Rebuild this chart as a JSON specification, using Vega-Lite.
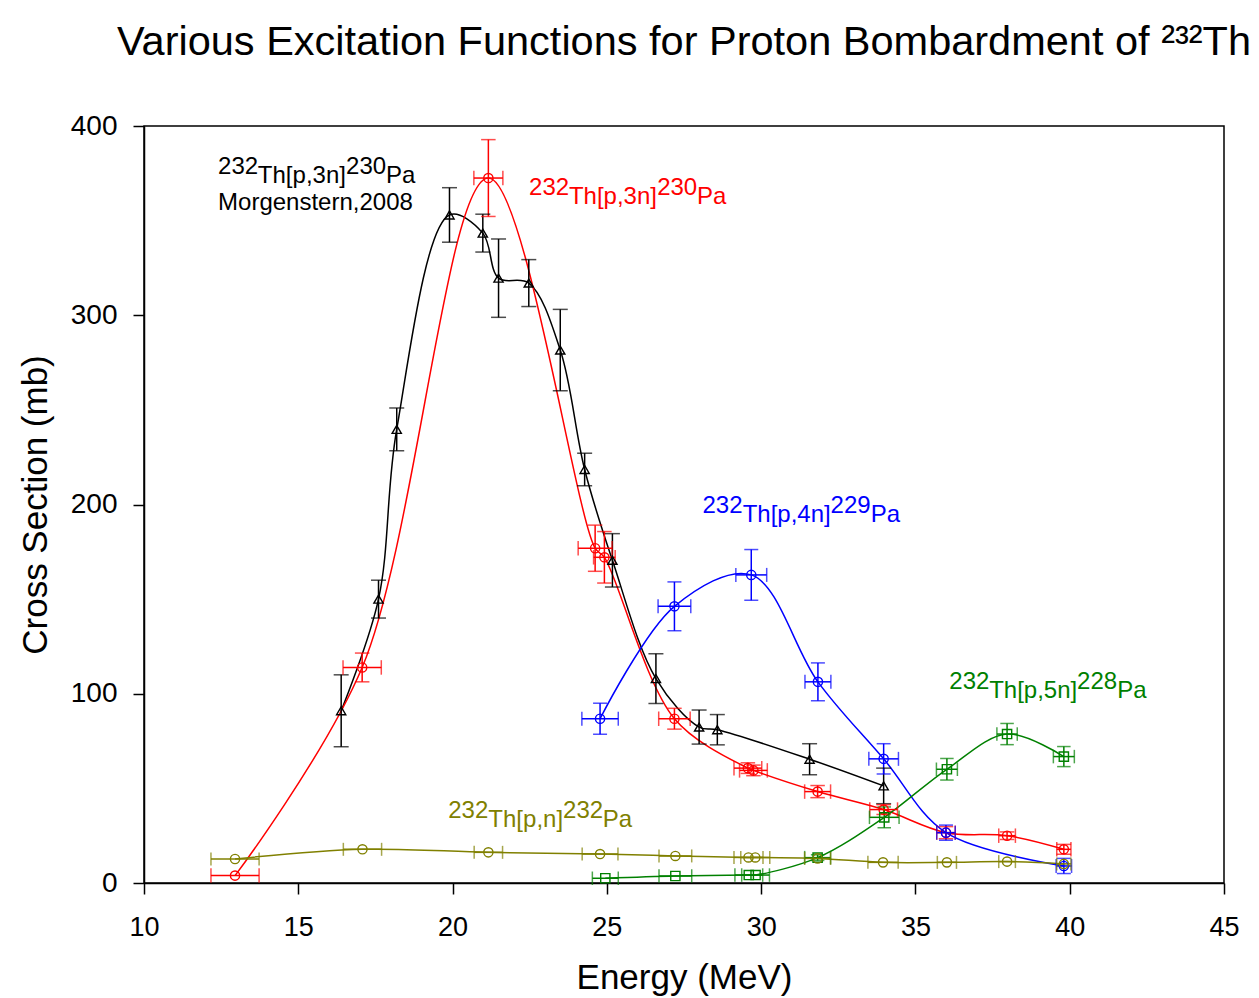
{
  "$schema": "https://vega.github.io/schema/vega-lite/v6.json",
  "width": 1080,
  "height": 757,
  "autosize": {"type": "none"},
  "padding": {"left": 144, "top": 126, "right": 35, "bottom": 115},
  "background": "white",
  "title": {"text": "Various Excitation Functions for Proton Bombardment of ²³²Th", "fontSize": 41.5, "font": "Liberation Sans", "fontWeight": "normal", "anchor": "middle", "offset": 49, "color": "black"},
  "config": {
    "view": {"stroke": "black", "strokeWidth": 1.5},
    "font": "Liberation Sans",
    "text": {"font": "Liberation Sans"}
  },
  "datasets": {
    "pts": [
      {"s":"bk","E":16.39,"v":91,"ylo":72,"yhi":110},
      {"s":"bk","E":17.60,"v":150,"ylo":140,"yhi":160},
      {"s":"bk","E":18.19,"v":239.7,"ylo":228.4,"yhi":251},
      {"s":"bk","E":19.90,"v":353,"ylo":338.6,"yhi":367.4},
      {"s":"bk","E":20.98,"v":343.4,"ylo":333.4,"yhi":353.4},
      {"s":"bk","E":21.49,"v":319.6,"ylo":298.9,"yhi":340.3},
      {"s":"bk","E":22.47,"v":317,"ylo":304.6,"yhi":329.4},
      {"s":"bk","E":23.49,"v":281.6,"ylo":260.1,"yhi":303.1},
      {"s":"bk","E":24.28,"v":218.5,"ylo":209.9,"yhi":227.1},
      {"s":"bk","E":25.18,"v":170.5,"ylo":156.4,"yhi":184.6},
      {"s":"bk","E":26.59,"v":108,"ylo":94.8,"yhi":121.2},
      {"s":"bk","E":27.99,"v":82.4,"ylo":73.4,"yhi":91.4},
      {"s":"bk","E":28.58,"v":81,"ylo":73,"yhi":89},
      {"s":"bk","E":31.57,"v":65.4,"ylo":57.2,"yhi":73.6},
      {"s":"bk","E":33.97,"v":51.3,"ylo":41.9,"yhi":60.7},
      {"s":"rd","E":12.95,"v":3.9,"xlo":12.17,"xhi":13.73},
      {"s":"rd","E":17.07,"v":113.9,"xlo":16.45,"xhi":17.69,"ylo":106.3,"yhi":121.5},
      {"s":"rd","E":21.16,"v":372.5,"xlo":20.69,"xhi":21.63,"ylo":352.2,"yhi":392.8},
      {"s":"rd","E":24.62,"v":176.9,"xlo":24.07,"xhi":25.17,"ylo":164.7,"yhi":189.1},
      {"s":"rd","E":24.92,"v":172.1,"xlo":24.57,"xhi":25.27,"ylo":158.5,"yhi":185.7},
      {"s":"rd","E":27.19,"v":86.8,"xlo":26.68,"xhi":27.70,"ylo":81.3,"yhi":92.3},
      {"s":"rd","E":29.57,"v":60.7,"xlo":29.12,"xhi":30.02,"ylo":57.9,"yhi":63.5},
      {"s":"rd","E":29.75,"v":59.5,"xlo":29.30,"xhi":30.20,"ylo":56.7,"yhi":62.3},
      {"s":"rd","E":31.83,"v":48.3,"xlo":31.41,"xhi":32.25,"ylo":45.1,"yhi":51.5},
      {"s":"rd","E":33.97,"v":38.8,"xlo":33.52,"xhi":34.42,"ylo":36.2,"yhi":41.4},
      {"s":"rd","E":35.99,"v":26.6,"xlo":35.69,"xhi":36.29,"ylo":23.4,"yhi":29.8},
      {"s":"rd","E":37.97,"v":25,"xlo":37.70,"xhi":38.24,"ylo":23,"yhi":27},
      {"s":"rd","E":39.81,"v":17.8,"xlo":39.58,"xhi":40.04,"ylo":15.2,"yhi":20.4},
      {"s":"bl","E":24.78,"v":86.8,"xlo":24.19,"xhi":25.37,"ylo":78.6,"yhi":95},
      {"s":"bl","E":27.19,"v":146.2,"xlo":26.66,"xhi":27.72,"ylo":133.3,"yhi":159.1},
      {"s":"bl","E":29.68,"v":162.8,"xlo":29.18,"xhi":30.18,"ylo":149.4,"yhi":176.2},
      {"s":"bl","E":31.84,"v":106.3,"xlo":31.42,"xhi":32.26,"ylo":96.3,"yhi":116.3},
      {"s":"bl","E":33.97,"v":65.6,"xlo":33.49,"xhi":34.45,"ylo":57.6,"yhi":73.6},
      {"s":"bl","E":35.99,"v":26.6,"xlo":35.69,"xhi":36.29,"ylo":22.6,"yhi":30.6},
      {"s":"bl","E":39.81,"v":9,"xlo":39.56,"xhi":40.06,"ylo":5,"yhi":13},
      {"s":"gr","E":24.95,"v":2.5,"xlo":24.53,"xhi":25.37},
      {"s":"gr","E":27.22,"v":3.7,"xlo":26.69,"xhi":27.75},
      {"s":"gr","E":29.60,"v":4.2,"xlo":29.15,"xhi":30.05},
      {"s":"gr","E":29.82,"v":4.2,"xlo":29.37,"xhi":30.27},
      {"s":"gr","E":31.83,"v":13.4,"xlo":31.41,"xhi":32.25,"ylo":11.9,"yhi":14.9},
      {"s":"gr","E":33.99,"v":34.7,"xlo":33.51,"xhi":34.47,"ylo":29.2,"yhi":40.2},
      {"s":"gr","E":36.02,"v":60.1,"xlo":35.68,"xhi":36.36,"ylo":54.4,"yhi":65.8},
      {"s":"gr","E":37.97,"v":78.7,"xlo":37.64,"xhi":38.30,"ylo":73.1,"yhi":84.3},
      {"s":"gr","E":39.81,"v":66.8,"xlo":39.47,"xhi":40.15,"ylo":61.5,"yhi":72.1},
      {"s":"ol","E":12.95,"v":12.7,"xlo":12.17,"xhi":13.73},
      {"s":"ol","E":17.08,"v":17.8,"xlo":16.46,"xhi":17.70},
      {"s":"ol","E":21.16,"v":16.2,"xlo":20.70,"xhi":21.62},
      {"s":"ol","E":24.78,"v":15.3,"xlo":24.20,"xhi":25.36},
      {"s":"ol","E":27.22,"v":14.3,"xlo":26.69,"xhi":27.75},
      {"s":"ol","E":29.59,"v":13.5,"xlo":29.12,"xhi":30.06},
      {"s":"ol","E":29.81,"v":13.5,"xlo":29.34,"xhi":30.28},
      {"s":"ol","E":31.83,"v":13.0,"xlo":31.41,"xhi":32.25},
      {"s":"ol","E":33.95,"v":10.9,"xlo":33.46,"xhi":34.44},
      {"s":"ol","E":36.02,"v":10.9,"xlo":35.71,"xhi":36.33},
      {"s":"ol","E":37.97,"v":11.3,"xlo":37.70,"xhi":38.24},
      {"s":"ol","E":39.81,"v":10.1,"xlo":39.58,"xhi":40.04}
    ],
    "lab": [
      {"s":"bk","k":"sup","t":"232","E":12.40,"v":369.8},
      {"s":"bk","k":"base","t":"Th[p,3n]","E":13.69,"v":369.8},
      {"s":"bk","k":"sup","t":"230","E":16.55,"v":369.8},
      {"s":"bk","k":"base","t":"Pa","E":17.84,"v":369.8},
      {"s":"bk","k":"base","t":"Morgenstern,2008","E":12.40,"v":355.6},
      {"s":"rd","k":"sup","t":"232","E":22.48,"v":358.8},
      {"s":"rd","k":"base","t":"Th[p,3n]","E":23.77,"v":358.8},
      {"s":"rd","k":"sup","t":"230","E":26.63,"v":358.8},
      {"s":"rd","k":"base","t":"Pa","E":27.92,"v":358.8},
      {"s":"bl","k":"sup","t":"232","E":28.10,"v":190.5},
      {"s":"bl","k":"base","t":"Th[p,4n]","E":29.40,"v":190.5},
      {"s":"bl","k":"sup","t":"229","E":32.25,"v":190.5},
      {"s":"bl","k":"base","t":"Pa","E":33.55,"v":190.5},
      {"s":"gr","k":"sup","t":"232","E":36.10,"v":97.6},
      {"s":"gr","k":"base","t":"Th[p,5n]","E":37.39,"v":97.6},
      {"s":"gr","k":"sup","t":"228","E":40.24,"v":97.6},
      {"s":"gr","k":"base","t":"Pa","E":41.54,"v":97.6},
      {"s":"ol","k":"sup","t":"232","E":19.86,"v":29.75},
      {"s":"ol","k":"base","t":"Th[p,n]","E":21.16,"v":29.75},
      {"s":"ol","k":"sup","t":"232","E":23.58,"v":29.75},
      {"s":"ol","k":"base","t":"Pa","E":24.87,"v":29.75}
    ]
  },
  "data": {"name": "pts"},
  "layer": [
    {
      "mark": {"type": "line", "interpolate": "catmull-rom", "strokeWidth": 1.5},
      "encoding": {
        "x": {"field": "E", "type": "quantitative", "scale": {"domain": [10, 45], "nice": false, "zero": false},
          "axis": {"title": "Energy (MeV)", "values": [10, 15, 20, 25, 30, 35, 40, 45], "grid": false, "domainColor": "black", "domainWidth": 1.5, "tickColor": "black", "tickWidth": 1.5, "tickSize": 11, "labelFontSize": 27, "labelColor": "black", "labelPadding": 20, "labelFlush": false, "titleFontSize": 35, "titleFontWeight": "normal", "titleColor": "black", "titlePadding": 20, "labelFont": "Liberation Sans", "titleFont": "Liberation Sans"}},
        "y": {"field": "v", "type": "quantitative", "scale": {"domain": [0, 400], "nice": false},
          "axis": {"title": "Cross Section (mb)", "values": [0, 100, 200, 300, 400], "grid": false, "domainColor": "black", "domainWidth": 1.5, "tickColor": "black", "tickWidth": 1.5, "tickSize": 11, "labelFontSize": 28, "labelColor": "black", "labelPadding": 16, "labelFlush": false, "titleFontSize": 35, "titleFontWeight": "normal", "titleColor": "black", "titlePadding": 17, "labelFont": "Liberation Sans", "titleFont": "Liberation Sans"}},
        "color": {"field": "s", "type": "nominal", "scale": {"domain": ["bk", "rd", "bl", "gr", "ol"], "range": ["#000000", "#ff0000", "#0000ff", "#008000", "#808000"]}, "legend": null}
      }
    },
    {
      "transform": [{"filter": "isValid(datum.ylo)"}],
      "mark": {"type": "rule", "strokeWidth": 1.5},
      "encoding": {
        "x": {"field": "E", "type": "quantitative"},
        "y": {"field": "ylo", "type": "quantitative"},
        "y2": {"field": "yhi"},
        "color": {"field": "s", "type": "nominal", "legend": null}
      }
    },
    {
      "transform": [{"filter": "isValid(datum.ylo)"}],
      "mark": {"type": "tick", "orient": "horizontal", "thickness": 1.5},
      "encoding": {
        "x": {"field": "E", "type": "quantitative"},
        "y": {"field": "ylo", "type": "quantitative"},
        "size": {"field": "s", "type": "nominal", "scale": {"domain": ["bk", "rd", "bl", "gr", "ol"], "range": [15, 13, 13, 20, 13]}, "legend": null},
        "color": {"field": "s", "type": "nominal", "legend": null}
      }
    },
    {
      "transform": [{"filter": "isValid(datum.yhi)"}],
      "mark": {"type": "tick", "orient": "horizontal", "thickness": 1.5},
      "encoding": {
        "x": {"field": "E", "type": "quantitative"},
        "y": {"field": "yhi", "type": "quantitative"},
        "size": {"field": "s", "type": "nominal", "legend": null},
        "color": {"field": "s", "type": "nominal", "legend": null}
      }
    },
    {
      "transform": [{"filter": "isValid(datum.xlo)"}],
      "mark": {"type": "rule", "strokeWidth": 1.5},
      "encoding": {
        "x": {"field": "xlo", "type": "quantitative"},
        "x2": {"field": "xhi"},
        "y": {"field": "v", "type": "quantitative"},
        "color": {"field": "s", "type": "nominal", "legend": null}
      }
    },
    {
      "transform": [{"filter": "isValid(datum.xlo)"}],
      "mark": {"type": "tick", "orient": "vertical", "thickness": 1.5},
      "encoding": {
        "x": {"field": "xlo", "type": "quantitative"},
        "y": {"field": "v", "type": "quantitative"},
        "size": {"field": "s", "type": "nominal", "legend": null},
        "color": {"field": "s", "type": "nominal", "legend": null}
      }
    },
    {
      "transform": [{"filter": "isValid(datum.xhi)"}],
      "mark": {"type": "tick", "orient": "vertical", "thickness": 1.5},
      "encoding": {
        "x": {"field": "xhi", "type": "quantitative"},
        "y": {"field": "v", "type": "quantitative"},
        "size": {"field": "s", "type": "nominal", "legend": null},
        "color": {"field": "s", "type": "nominal", "legend": null}
      }
    },
    {
      "mark": {"type": "point", "filled": false, "size": 85, "strokeWidth": 1.4, "opacity": 1},
      "encoding": {
        "x": {"field": "E", "type": "quantitative"},
        "y": {"field": "v", "type": "quantitative"},
        "shape": {"field": "s", "type": "nominal", "scale": {"domain": ["bk", "rd", "bl", "gr", "ol"], "range": ["triangle-up", "circle", "circle", "square", "circle"]}, "legend": null},
        "color": {"field": "s", "type": "nominal", "legend": null}
      }
    },
    {
      "data": {"name": "lab"},
      "transform": [{"filter": "datum.k == 'base'"}],
      "mark": {"type": "text", "align": "left", "baseline": "alphabetic", "fontSize": 24, "font": "Liberation Sans"},
      "encoding": {
        "x": {"field": "E", "type": "quantitative"},
        "y": {"field": "v", "type": "quantitative"},
        "text": {"field": "t", "type": "nominal"},
        "color": {"field": "s", "type": "nominal", "legend": null}
      }
    },
    {
      "data": {"name": "lab"},
      "transform": [{"filter": "datum.k == 'sup'"}],
      "mark": {"type": "text", "align": "left", "baseline": "alphabetic", "fontSize": 24, "dy": -9, "font": "Liberation Sans"},
      "encoding": {
        "x": {"field": "E", "type": "quantitative"},
        "y": {"field": "v", "type": "quantitative"},
        "text": {"field": "t", "type": "nominal"},
        "color": {"field": "s", "type": "nominal", "legend": null}
      }
    }
  ]
}
